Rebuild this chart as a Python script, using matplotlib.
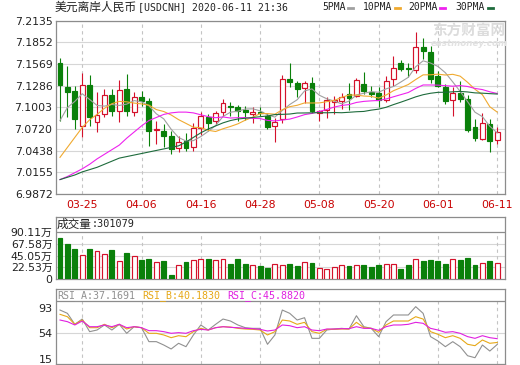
import matplotlib
matplotlib.use('Agg')
import matplotlib.pyplot as plt
from matplotlib.lines import Line2D

plt.rcParams['font.family'] = ['DejaVu Sans', 'Noto Sans CJK SC']

# ---- data ----
opens = [7.1582, 7.1265, 7.1221, 7.0757, 7.1295, 7.0817, 7.0917, 7.1165, 7.0960, 7.1243,
         7.0939, 7.1135, 7.1090, 7.0708, 7.0699, 7.0624, 7.0470, 7.0565, 7.0483, 7.0735,
         7.0878, 7.0830, 7.0939, 7.1021, 7.1004, 7.0969, 7.0917, 7.0943, 7.0895, 7.0757,
         7.0852, 7.1373, 7.1317, 7.1256, 7.1317, 7.0930, 7.0969, 7.1074, 7.1090, 7.1178,
         7.1156, 7.1308, 7.1197, 7.1187, 7.1100, 7.1373, 7.1578, 7.1517, 7.1491, 7.1791,
         7.1719, 7.1406, 7.1273, 7.1100, 7.1187, 7.1113, 7.0744, 7.0595, 7.0787, 7.0578]
highs = [7.1643, 7.1547, 7.1286, 7.1452, 7.1426, 7.1208, 7.1243, 7.1243, 7.1360, 7.1439,
         7.1208, 7.1217, 7.1122, 7.0830, 7.0787, 7.0695, 7.0626, 7.0669, 7.0799, 7.0947,
         7.0917, 7.0960, 7.1113, 7.1077, 7.1034, 7.1017, 7.1002, 7.1004, 7.0930, 7.0865,
         7.1426, 7.1582, 7.1352, 7.1352, 7.1400, 7.0973, 7.1143, 7.1156, 7.1184, 7.1317,
         7.1386, 7.1465, 7.1282, 7.1265, 7.1406, 7.1673, 7.1621, 7.1582, 7.1982, 7.1908,
         7.1797, 7.1471, 7.1308, 7.1273, 7.1347, 7.1169, 7.0852, 7.0930, 7.0852, 7.0744]
lows = [7.0830, 7.0878, 7.0721, 7.0613, 7.0764, 7.0678, 7.0874, 7.0895, 7.0809, 7.0895,
        7.0895, 7.1025, 7.0504, 7.0526, 7.0483, 7.0395, 7.0417, 7.0434, 7.0438, 7.0643,
        7.0699, 7.0787, 7.0895, 7.0895, 7.0830, 7.0843, 7.0800, 7.0895, 7.0721, 7.0548,
        7.0800, 7.1265, 7.1139, 7.1060, 7.0926, 7.0826, 7.0865, 7.0917, 7.0982, 7.0969,
        7.1135, 7.1178, 7.1135, 7.1012, 7.1067, 7.1276, 7.1478, 7.1400, 7.1452, 7.1634,
        7.1317, 7.1265, 7.1047, 7.0895, 7.1069, 7.0682, 7.0561, 7.0578, 7.0421, 7.0526]
closes = [7.1295, 7.1208, 7.0852, 7.1295, 7.0874, 7.0904, 7.1165, 7.0960, 7.1234, 7.0956,
          7.1135, 7.1090, 7.0699, 7.0721, 7.0626, 7.0460, 7.0552, 7.0470, 7.0730, 7.0895,
          7.0800, 7.0930, 7.1060, 7.1008, 7.0960, 7.0943, 7.0943, 7.0930, 7.0743, 7.0817,
          7.1373, 7.1330, 7.1243, 7.1317, 7.0952, 7.0956, 7.1100, 7.1093, 7.1139, 7.1126,
          7.1360, 7.1210, 7.1178, 7.1100, 7.1347, 7.1517, 7.1504, 7.1504, 7.1787, 7.1732,
          7.1373, 7.1286, 7.1090, 7.1187, 7.1113, 7.0709, 7.0597, 7.0800, 7.0558, 7.0682]

ma5 = [7.083, 7.100, 7.108, 7.118, 7.1105, 7.1027, 7.1018, 7.1040, 7.1027, 7.1044,
       7.1090, 7.1075, 7.1023, 7.0918, 7.0852, 7.0717, 7.0609, 7.0563, 7.0568, 7.0621,
       7.0689, 7.0765, 7.0883, 7.0939, 7.0952, 7.0980, 7.0983, 7.0957, 7.0904, 7.0875,
       7.0961, 7.1039, 7.1101, 7.1216, 7.1243, 7.1160, 7.1114, 7.1084, 7.1048, 7.1083,
       7.1164, 7.1186, 7.1206, 7.1199, 7.1243, 7.1274, 7.1333, 7.1394, 7.1532, 7.1609,
       7.1580, 7.1536, 7.1454, 7.1334, 7.1210, 7.1077, 7.0939, 7.0881, 7.0755, 7.0669]
ma10 = [7.035, 7.048, 7.061, 7.074, 7.084, 7.091, 7.099, 7.105, 7.108, 7.1074,
        7.1058, 7.1047, 7.1031, 7.0973, 7.0948, 7.0903, 7.0842, 7.0793, 7.0743, 7.0737,
        7.0703, 7.0687, 7.0723, 7.0753, 7.0787, 7.0835, 7.0874, 7.0920, 7.0921, 7.0913,
        7.0971, 7.1011, 7.1029, 7.1060, 7.1059, 7.1060, 7.1076, 7.1092, 7.1132, 7.1163,
        7.1162, 7.1150, 7.1145, 7.1123, 7.1163, 7.1219, 7.1259, 7.1300, 7.1365, 7.1426,
        7.1427, 7.1435, 7.1424, 7.1433, 7.1409, 7.1329, 7.1238, 7.1167, 7.1010, 7.0940]
ma20 = [7.006, 7.010, 7.015, 7.020, 7.026, 7.033, 7.039, 7.045, 7.051, 7.060,
        7.068, 7.076, 7.083, 7.087, 7.091, 7.093, 7.094, 7.094, 7.093, 7.0905,
        7.0881, 7.0867, 7.0877, 7.0863, 7.0867, 7.0869, 7.0858, 7.0856, 7.0832, 7.0825,
        7.0837, 7.0849, 7.0876, 7.0907, 7.0923, 7.0948, 7.0975, 7.1006, 7.1027, 7.1038,
        7.1066, 7.1080, 7.1087, 7.1092, 7.1111, 7.1140, 7.1168, 7.1196, 7.1249, 7.1294,
        7.1294, 7.1292, 7.1285, 7.1278, 7.1286, 7.1274, 7.1249, 7.1234, 7.1205, 7.1183]
ma30 = [7.006, 7.009, 7.012, 7.016, 7.019, 7.022, 7.026, 7.030, 7.034, 7.036,
        7.038, 7.040, 7.042, 7.044, 7.046, 7.048, 7.050, 7.055, 7.061, 7.067,
        7.072, 7.076, 7.080, 7.083, 7.085, 7.086, 7.087, 7.088, 7.089, 7.0908,
        7.0911, 7.0915, 7.0928, 7.0929, 7.0931, 7.0933, 7.0931, 7.0935, 7.0932, 7.0938,
        7.0945, 7.0949, 7.0966, 7.0979, 7.1003, 7.1038, 7.1070, 7.1104, 7.1139, 7.1167,
        7.1186, 7.1198, 7.1199, 7.1205, 7.1210, 7.1203, 7.1191, 7.1187, 7.1181, 7.1176]

# volume in 万
volume = [79.4, 68.1, 57.6, 46.9, 58.8, 54.4, 48.8, 56.9, 34.4, 49.4,
          45.0, 36.2, 38.1, 31.9, 34.4, 7.5, 26.3, 31.9, 35.7, 38.1,
          38.1, 35.7, 39.4, 28.2, 38.1, 28.2, 26.3, 24.4, 21.2, 28.2,
          26.3, 28.2, 25.0, 31.9, 30.0, 21.2, 19.4, 23.1, 26.3, 25.0,
          26.3, 26.3, 23.1, 26.3, 28.2, 29.4, 19.4, 27.5, 38.8, 33.8,
          37.5, 33.8, 29.4, 38.8, 35.7, 40.7, 27.5, 31.3, 33.8, 30.11]

rsi_a = [89.2, 84.2, 67.6, 75.6, 56.5, 59.0, 66.6, 59.0, 67.6, 54.0,
         64.0, 62.5, 41.4, 41.4, 36.3, 30.3, 38.9, 33.8, 51.5, 66.6,
         59.0, 67.6, 75.6, 72.6, 66.6, 62.5, 61.5, 61.5, 37.4, 51.5,
         89.2, 84.2, 74.1, 77.6, 46.4, 46.4, 59.0, 60.5, 61.5, 60.5,
         80.6, 64.0, 61.5, 49.0, 71.6, 81.7, 81.7, 81.7, 94.3, 84.2,
         49.0, 42.4, 33.8, 41.4, 33.8, 20.1, 17.1, 36.3, 27.2, 37.17]
rsi_b = [82.7, 79.1, 67.6, 74.1, 62.5, 62.5, 67.6, 62.5, 67.6, 60.5,
         64.0, 62.5, 54.0, 54.0, 51.5, 47.4, 50.4, 48.9, 56.5, 61.5,
         59.0, 62.5, 64.0, 63.5, 61.5, 60.5, 60.0, 59.0, 51.5, 56.5,
         74.1, 72.6, 67.6, 70.6, 56.5, 54.0, 60.0, 60.0, 60.5, 60.5,
         70.6, 62.5, 61.5, 55.5, 66.6, 72.6, 72.6, 72.6, 79.1, 75.6,
         56.5, 52.5, 47.4, 50.4, 46.4, 37.4, 35.3, 43.9, 38.9, 40.18]
rsi_c = [74.1, 71.6, 66.6, 72.6, 64.0, 64.0, 66.6, 64.0, 67.6, 62.5,
         64.0, 62.5, 58.0, 58.0, 56.5, 54.0, 55.0, 54.0, 58.0, 60.0,
         59.0, 62.5, 64.0, 63.0, 62.5, 61.5, 61.0, 60.0, 57.5, 59.0,
         66.6, 65.5, 62.5, 64.0, 59.0, 58.0, 60.5, 60.5, 61.0, 61.0,
         64.0, 61.5, 61.5, 58.5, 64.0, 66.6, 66.6, 67.6, 70.6, 69.1,
         61.5, 59.0, 55.5, 56.5, 54.0, 49.0, 46.4, 50.4, 47.4, 45.88]

date_pos = [3, 11, 19, 27, 35, 43, 51, 59]
date_labels = ['03-25', '04-06', '04-16', '04-28', '05-08', '05-20', '06-01', '06-11']
price_ticks = [6.9872, 7.0155, 7.0438, 7.0720, 7.1003, 7.1286, 7.1569, 7.1852, 7.2135]
vol_ticks = [0, 22.53, 45.05, 67.58, 90.11]
vol_labels = ['0', '22.53万', '45.05万', '67.58万', '90.11万']
rsi_ticks = [15, 54, 93]

title_cn = '美元离岸人民币'
title_rest = '[USDCNH] 2020-06-11 21:36'
ma_names = ['5PMA', '10PMA', '20PMA', '30PMA']
last_vol = '301079'
rsi_names = ['RSI_A:37.1691', 'RSI_B:40.1830', 'RSI_C:45.8820']

# ---- style ----
RED = '#d4112b'
GREEN = '#0a800a'
ma_colors = ['#a0a0a0', '#f0aa30', '#ee22ee', '#1e6b3c']
rsi_colors = ['#909090', '#e6a817', '#e020e0']
FRAME = '#8c8c8c'
GRID = '#d6d6d6'
VGRID = '#c4c4c4'
TXT = '#222222'

W, H = 520, 365


def rect(x0, y0, x1, y1):
    return [x0 / W, 1 - y1 / H, (x1 - x0) / W, (y1 - y0) / H]


def fxy(x, y):
    return x / W, 1 - y / H


fig = plt.figure(figsize=(5.2, 3.65), dpi=100)
n = len(closes)
x = list(range(n))
XL = (-0.54, 60.05)
bw = 0.66

# ---- price panel ----
ax = fig.add_axes(rect(56, 20.5, 505, 194))
ax.set_xlim(*XL)
ax.set_ylim(price_ticks[0], price_ticks[-1])
for t in price_ticks:
    ax.axhline(t, color=GRID, lw=0.8, zorder=0)
for p in date_pos:
    ax.axvline(p, color=VGRID, lw=0.8, ls=(0, (3, 3)), zorder=0)

for i in x:
    o, h, l, c = opens[i], highs[i], lows[i], closes[i]
    up = c >= o
    col = RED if up else GREEN
    ax.vlines(i, l, h, color=col, lw=0.8, zorder=2)
    bot = min(o, c)
    hgt = max(abs(c - o), 0.0002)
    if up:
        ax.bar(i, hgt, bw, bot, facecolor='white', edgecolor=col, lw=0.85, zorder=3)
    else:
        ax.bar(i, hgt, bw, bot, facecolor=col, edgecolor=col, lw=0.85, zorder=3)

for vals, col in zip([ma5, ma10, ma20, ma30], ma_colors):
    ax.plot(x, vals, color=col, lw=0.8, zorder=4)

ax.set_yticks(price_ticks)
ax.set_yticklabels(['%.4f' % t for t in price_ticks])
ax.set_xticks(date_pos)
ax.set_xticklabels(date_labels)
ax.tick_params(axis='y', length=0, pad=2.5, labelsize=7.8, labelcolor=TXT)
ax.tick_params(axis='x', length=0, pad=4.5, labelsize=7.8, labelcolor='#c80000')

# ---- volume panel ----
vtop = 90.11
av = fig.add_axes(rect(56, 217, 505, 279))
av.set_xlim(*XL)
av.set_ylim(0, vtop * 62 / 46.7)
for t in vol_ticks[1:-1]:
    av.axhline(t, color=GRID, lw=0.8, zorder=0)
av.axhline(vtop, color=FRAME, lw=0.9, zorder=1)
av.vlines(date_pos, 0, vtop, color=VGRID, lw=0.8, linestyles=(0, (3, 3)), zorder=0)
for i in x:
    up = closes[i] >= opens[i]
    if up:
        av.bar(i, volume[i], bw, 0, facecolor='white', edgecolor=RED, lw=0.85, zorder=3)
    else:
        av.bar(i, volume[i], bw, 0, facecolor=GREEN, edgecolor=GREEN, lw=0.85, zorder=3)
av.set_yticks(vol_ticks)
av.set_yticklabels(vol_labels)
av.set_xticks([])
av.tick_params(axis='y', length=0, pad=2.5, labelsize=7.8, labelcolor=TXT)

# ---- RSI panel ----
rtop = 102.8
ar = fig.add_axes(rect(56, 289, 505, 364))
ar.set_xlim(*XL)
ar.set_ylim(7.6, 121)
ar.axhline(54, color=GRID, lw=0.8, zorder=0)
ar.axhline(rtop, color=FRAME, lw=0.9, zorder=1)
ar.vlines(date_pos, 7.6, rtop, color=VGRID, lw=0.8, linestyles=(0, (3, 3)), zorder=0)
for vals, col in zip([rsi_a, rsi_b, rsi_c], rsi_colors):
    ar.plot(x, vals, color=col, lw=0.8, zorder=3)
ar.set_yticks(rsi_ticks)
ar.set_yticklabels([str(t) for t in rsi_ticks])
ar.set_xticks([])
ar.tick_params(axis='y', length=0, pad=2.5, labelsize=8, labelcolor=TXT)

for a in (ax, av, ar):
    for s in a.spines.values():
        s.set_color(FRAME)
        s.set_linewidth(0.9)

# ---- header texts ----
fig.text(*fxy(55, 7.5), title_cn, fontsize=8.5, family='Noto Sans CJK SC',
         color=TXT, va='center', ha='left')
fig.text(*fxy(138, 7.5), title_rest, fontsize=7.1, family='DejaVu Sans Mono',
         color=TXT, va='center', ha='left')

leg_x = [322, 363, 408, 455]
dash_x = [348, 395, 440, 488]
for name, col, tx, dx in zip(ma_names, ma_colors, leg_x, dash_x):
    fig.text(*fxy(tx, 7.5), name, fontsize=7.0, family='DejaVu Sans Mono',
             color=TXT, va='center', ha='left')
    x0, y0 = fxy(dx, 7.5)
    x1, _ = fxy(dx + 5, 7.5)
    fig.add_artist(Line2D([x0, x1], [y0, y0], color=col, lw=2.0))

fig.text(*fxy(57, 224), '成交量', fontsize=8.4, family='Noto Sans CJK SC',
         color=TXT, va='center', ha='left')
fig.text(*fxy(92, 224), ':' + last_vol, fontsize=7.3, family='DejaVu Sans Mono',
         color=TXT, va='center', ha='left')

for name, col, tx in zip(rsi_names, rsi_colors, [57, 142, 227]):
    fig.text(*fxy(tx, 295.5), name, fontsize=7.2, family='DejaVu Sans Mono',
             color=col, va='center', ha='left')

# watermark
fig.text(*fxy(469, 31), '东方财富网', fontsize=10.5, family='Noto Sans CJK SC',
         color='#dcdcdc', weight='bold', va='center', ha='center')
fig.text(*fxy(469, 43), 'eastmoney.com', fontsize=6.3, color='#e2e2e2',
         style='italic', weight='bold', va='center', ha='center')

fig.savefig('out.png', dpi=100, facecolor='white')
